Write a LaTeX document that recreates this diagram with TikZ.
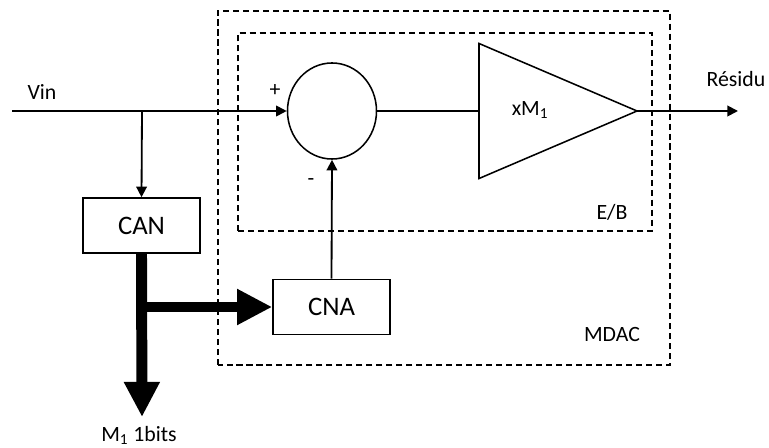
\documentclass[tikz,border=0pt]{standalone}
\usepackage{fontspec}
\setmainfont{Carlito}
\usetikzlibrary{positioning, arrows.meta, calc, shapes.geometric}

\tikzset{
  blk/.style={draw, line width=1.1pt, minimum width=2.925cm, minimum height=1.375cm, inner sep=0pt, font=\fontsize{19}{22}\selectfont},
  lbl/.style={inner sep=0pt, font=\fontsize{15.5}{18}\selectfont},
  sig/.style={line width=1.3pt, -{Triangle[length=7.5pt, width=7.5pt]}},
  bus/.style={line width=7.8pt, -{Triangle[length=25pt, width=24pt]}},
  dbox/.style={line width=1pt, dash pattern=on 4.3pt off 2.8pt}
}

\begin{document}
\begin{tikzpicture}[x=0.025cm, y=0.025cm]
  \useasboundingbox (0,0) rectangle (769,447);
  % MDAC et E/B
  \draw[dbox] (218,82) rectangle (670,436);
  \draw[dbox] (238,216) rectangle (652,414);
  \node[lbl] (mdac) at (612,112) {MDAC};
  \node[lbl] (eb) at (612,235) {E/B};

  \node[draw, ellipse, line width=1.1pt, minimum width=2.225cm, minimum height=2.4cm, inner sep=0pt] (sum) at (332,336) {};
  \node[draw, isosceles triangle, isosceles triangle stretches, line width=1.1pt, minimum width=3.375cm, minimum height=3.95cm, inner sep=0pt, outer sep=0pt, anchor=lower side] (amp) at (479,336) {};
  \node[lbl] (gain) at (530,337) {xM\textsubscript{1}};

  \node[blk] (can) at (141.5,221.5) {CAN};
  \node[blk] (cna) at (331.5,140) {CNA};

  \coordinate (vin) at (12,336);
  \coordinate (jn) at (142,336);
  \coordinate (out) at (738,336);
  \coordinate (bits) at (142,30);

  \node[lbl] (vinlbl) at (42,355) {Vin};
  \node[lbl] (plus) at (275,356) {+};
  \node[lbl] (minus) at (311,265) {-};
  \node[lbl] (res) at (736,368) {Résidu};
  \node[lbl] (m1) at (139,12) {M\textsubscript{1} 1bits};

  \draw[sig] (vin) -- (sum.west);
  \draw[sig] (jn) -- (can.north);
  \draw[line width=1.1pt] (sum.east) -- (amp.lower side);
  \draw[sig] (amp.apex) -- (out);
  \draw[sig] (cna.north) -- (sum.south);
  \draw[bus] (can.south) -- (bits);
  \draw[bus] (can.south |- cna.west) -- (cna.west);
\end{tikzpicture}
\end{document}
